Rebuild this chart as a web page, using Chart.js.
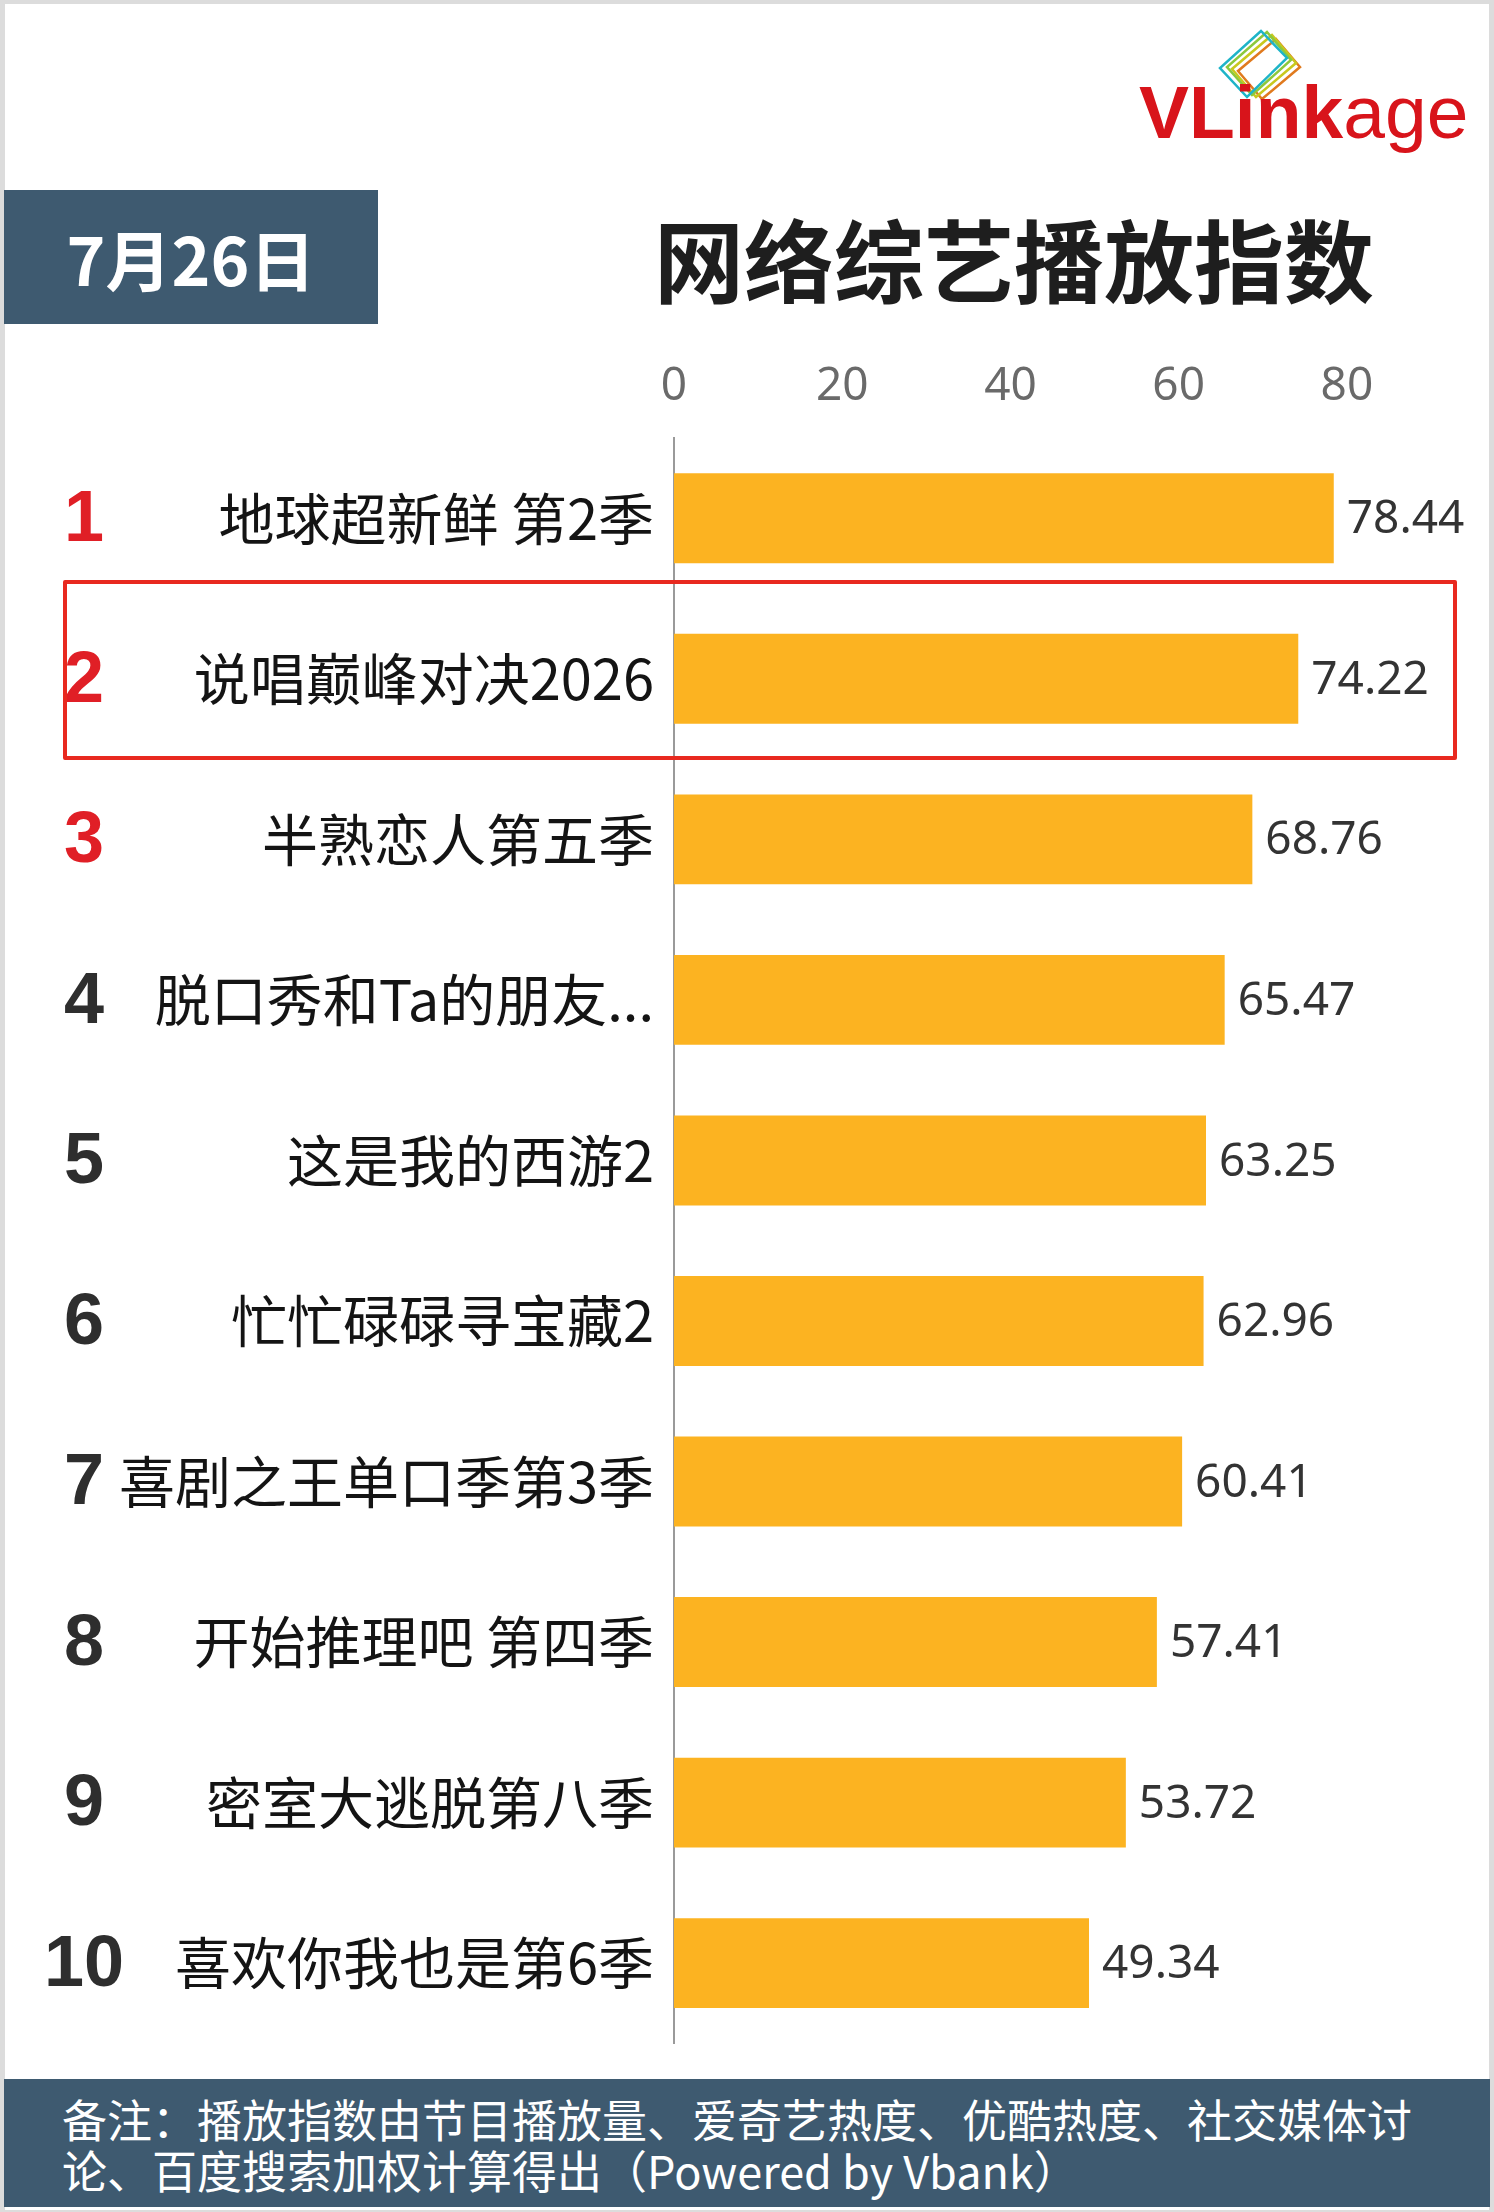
<!DOCTYPE html>
<html lang="zh">
<head>
  <meta charset="UTF-8" />
  <title>网络综艺播放指数</title>
  <script src="https://cdn.jsdelivr.net/npm/chart.js"></script>
  <style>
    body { margin: 0; background: #dcdcdc; }
    .page { position: relative; width: 1494px; height: 2212px; background: #dcdcdc; overflow: hidden; }
    .sheet { position: absolute; left: 5px; top: 4px; width: 1484px; height: 2206px; background: #fff; }
    .date-box {
      position: absolute; left: 4px; top: 190px; width: 374px; height: 134px;
      background: #3e5a70; color: #fff; font: bold 66px "Noto Sans CJK SC", sans-serif;
      line-height: 134px; text-align: center;
    }
    .title {
      position: absolute; left: 654px; top: 210px; font: bold 90px "Noto Sans CJK SC", sans-serif;
      line-height: 94px; color: #1e1e1e; white-space: nowrap;
    }
    .logo {
      position: absolute; left: 1139px; top: 75px; font: 75px "Liberation Sans", Arial, sans-serif;
      line-height: 75px; color: #d8141b; white-space: nowrap;
    }
    .logo b { font-weight: 900; }
    .logo-icon { position: absolute; left: 1210px; top: 25px; }
    #chart { position: absolute; left: 0; top: 330px; }
    .highlight {
      position: absolute; left: 63px; top: 580px; width: 1386px; height: 172px;
      border: 4px solid #e8291f; border-radius: 2px;
    }
    .footer {
      position: absolute; left: 4px; top: 2079px; width: 1486px; height: 128px; box-sizing: border-box;
      background: #3e5a70; color: #fff; font: 45px "Noto Sans CJK SC", sans-serif;
      line-height: 51px; padding: 14px 0 0 58px;
    }
  </style>
</head>
<body>
  <div class="page">
    <div class="sheet"></div>

    <!-- logo -->
    <svg class="logo-icon" width="100" height="80" viewBox="0 0 100 80">
      <g fill="none" stroke-width="2.5">
        <polygon points="66,24 28,56 52,84 90,52" stroke="#e07a1e" transform="translate(0,-10)"/>
        <polygon points="62,18 22,52 46,80 86,46" stroke="#c8c81e" transform="translate(0,-8)"/>
        <polygon points="57,13 17,48 42,76 81,41" stroke="#8cc83c" transform="translate(0,-6)"/>
        <polygon points="51,6 10,43 37,72 77,33" stroke="#1eb4c8"/>
      </g>
    </svg>
    <div class="logo"><b>VLink</b>age</div>

    <div class="date-box">7月26日</div>
    <div class="title">网络综艺播放指数</div>

    <canvas id="chart" width="1494" height="1767"></canvas>
    <div class="highlight"></div>

    <div class="footer">备注：播放指数由节目播放量、爱奇艺热度、优酷热度、社交媒体讨<br>论、百度搜索加权计算得出（Powered by Vbank）</div>
  </div>

  <script>
    // chart data
    const ranks = ["1", "2", "3", "4", "5", "6", "7", "8", "9", "10"];
    const shows = [
      "地球超新鲜 第2季",
      "说唱巅峰对决2026",
      "半熟恋人第五季",
      "脱口秀和Ta的朋友...",
      "这是我的西游2",
      "忙忙碌碌寻宝藏2",
      "喜剧之王单口季第3季",
      "开始推理吧 第四季",
      "密室大逃脱第八季",
      "喜欢你我也是第6季"
    ];
    const playIndex = [78.44, 74.22, 68.76, 65.47, 63.25, 62.96, 60.41, 57.41, 53.72, 49.34];
    const tickValues = [0, 20, 40, 60, 80];

    // rank numbers on the left, top 3 in red
    const rankPlugin = {
      id: "ranks",
      afterDraw(chart) {
        const ctx = chart.ctx;
        const yScale = chart.scales.y;
        ctx.save();
        ctx.font = "bold 72px 'Liberation Sans', Arial, sans-serif";
        ctx.textAlign = "center";
        ctx.textBaseline = "middle";
        ranks.forEach((r, i) => {
          ctx.fillStyle = i < 3 ? "#e01f26" : "#2e2e2e";
          ctx.fillText(r, 84, yScale.getPixelForValue(i) + 3);
        });
        ctx.restore();
      }
    };

    // value at the end of each bar
    const valuePlugin = {
      id: "values",
      afterDatasetsDraw(chart) {
        const ctx = chart.ctx;
        const meta = chart.getDatasetMeta(0);
        ctx.save();
        ctx.font = "46px 'Noto Sans', sans-serif";
        ctx.fillStyle = "#333";
        ctx.textAlign = "left";
        ctx.textBaseline = "middle";
        meta.data.forEach((bar, i) => {
          ctx.fillText(playIndex[i].toFixed(2), bar.x + 13, bar.y + 2);
        });
        ctx.restore();
      }
    };

    new Chart(document.getElementById("chart"), {
      type: "bar",
      data: {
        labels: shows,
        datasets: [{
          data: playIndex,
          backgroundColor: "#fcb321",
          categoryPercentage: 1,
          barPercentage: 0.56
        }]
      },
      options: {
        indexAxis: "y",
        responsive: false,
        animation: false,
        devicePixelRatio: 1,
        layout: { padding: { top: 0, left: 0, right: 63, bottom: 28 } },
        scales: {
          x: {
            position: "top",
            min: 0,
            max: 90,
            afterBuildTicks(scale) {
              scale.ticks = tickValues.map(v => ({ value: v }));
            },
            afterFit(scale) { scale.height = 108; },
            grid: { display: false, drawTicks: false },
            border: { display: false },
            ticks: {
              padding: 24,
              color: "#6a6a6a",
              font: { family: "'Noto Sans', sans-serif", size: 46, lineHeight: 1.2 }
            }
          },
          y: {
            afterFit(scale) { scale.width = 674; },
            grid: { display: true, drawOnChartArea: false, drawTicks: false, color: "transparent" },
            border: { display: true, color: "#9a9a9a", width: 2 },
            ticks: {
              padding: 20,
              color: "#141414",
              font: { family: "'Noto Sans CJK SC', sans-serif", size: 56 }
            }
          }
        },
        plugins: {
          legend: { display: false },
          tooltip: { enabled: false }
        }
      },
      plugins: [rankPlugin, valuePlugin]
    });
  </script>
</body>
</html>
